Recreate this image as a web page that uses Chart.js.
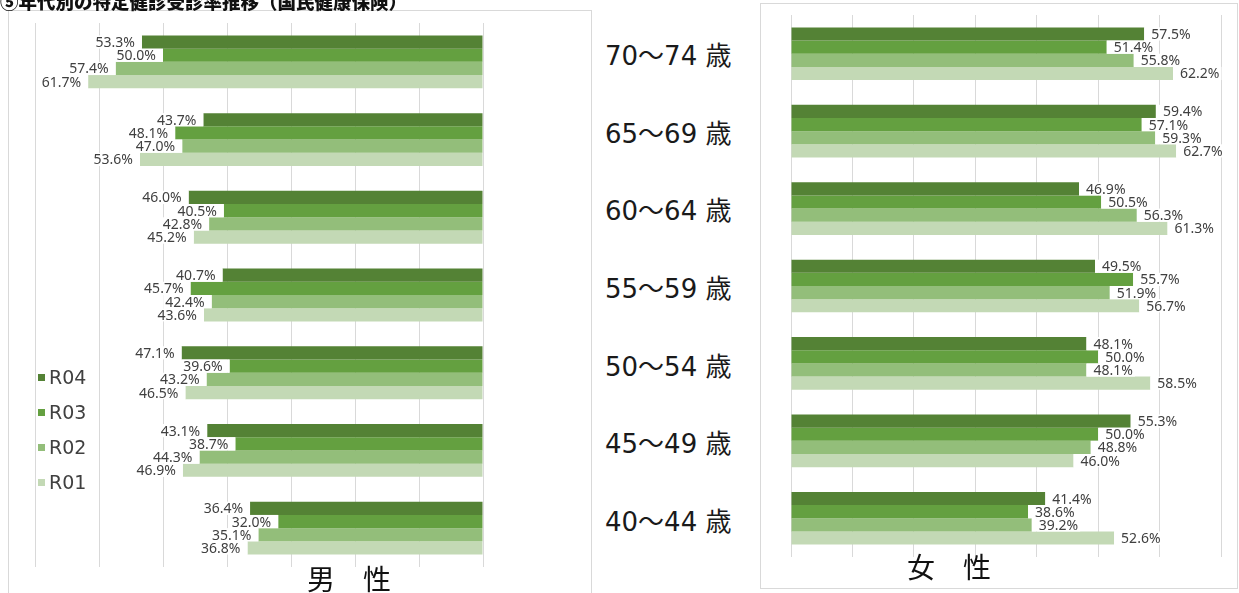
<!DOCTYPE html>
<html lang="ja">
<head>
<meta charset="utf-8">
<script src="https://cdn.jsdelivr.net/npm/chart.js@4.4.1/dist/chart.umd.min.js"></script>
<style>
  html, body { margin: 0; padding: 0; background: #fff; }
  body { width: 1239px; height: 593px; position: relative; overflow: hidden; font-family: "DejaVu Sans", "Noto Sans CJK JP", sans-serif; }
  .panel { position: absolute; border: 1px solid #d9d9d9; box-sizing: border-box; }
  #title { position: absolute; left: 0; top: -8px; font: 900 18.5px/19px "Noto Sans CJK JP"; color: #111; white-space: nowrap; z-index: 2; }
  canvas { position: absolute; top: 0; }
  .age { position: absolute; left: 605px; font-size: 26px; line-height: 26px; color: #1a1a1a; white-space: nowrap; }
  .legend-item { position: absolute; left: 38px; font-size: 19px; line-height: 22px; color: #404040; white-space: nowrap; }
  .legend-item span { display: inline-block; width: 7px; height: 7px; margin-right: 4px; vertical-align: middle; position: relative; top: -1px; }
  .sex { position: absolute; font: 28px/28px "Noto Sans CJK JP"; color: #111; white-space: nowrap; }
</style>
</head>
<body>
<div id="title">⑤年代別の特定健診受診率推移（国民健康保険）</div>
<div class="panel" style="left:8px; top:10px; width:584px; height:600px;"></div>
<div class="panel" style="left:760px; top:3px; width:478px; height:586px;"></div>
<canvas id="male" width="600" height="593" style="left:0;"></canvas>
<canvas id="female" width="479" height="593" style="left:760px;"></canvas>
<div class="sex" style="left:307px; top:564px;">男　性</div>
<div class="sex" style="left:907px; top:552px;">女　性</div>
<div id="legend"></div>
<div id="ages"></div>
<script>
const ageGroups = ['70～74 歳', '65～69 歳', '60～64 歳', '55～59 歳', '50～54 歳', '45～49 歳', '40～44 歳'];
const seriesNames = ['R04', 'R03', 'R02', 'R01'];
const seriesColors = ['#548235', '#64a040', '#93be7a', '#c3d9b5'];

// 受診率 (%)
const maleR04 = [53.3, 43.7, 46.0, 40.7, 47.1, 43.1, 36.4];
const maleR03 = [50.0, 48.1, 40.5, 45.7, 39.6, 38.7, 32.0];
const maleR02 = [57.4, 47.0, 42.8, 42.4, 43.2, 44.3, 35.1];
const maleR01 = [61.7, 53.6, 45.2, 43.6, 46.5, 46.9, 36.8];

const femaleR04 = [57.5, 59.4, 46.9, 49.5, 48.1, 55.3, 41.4];
const femaleR03 = [51.4, 57.1, 50.5, 55.7, 50.0, 50.0, 38.6];
const femaleR02 = [55.8, 59.3, 56.3, 51.9, 48.1, 48.8, 39.2];
const femaleR01 = [62.2, 62.7, 61.3, 56.7, 58.5, 46.0, 52.6];

const axisMax = 70;
const axisStep = 10;

// value labels with a white box, placed just past the end of each bar
const barLabels = {
  id: 'barLabels',
  afterDatasetsDraw(chart) {
    const ctx = chart.ctx;
    const reversed = chart.options.scales.x.reverse;
    ctx.save();
    ctx.font = '14px "Noto Sans"';
    ctx.textBaseline = 'middle';
    chart.data.datasets.forEach((ds, di) => {
      chart.getDatasetMeta(di).data.forEach((bar, i) => {
        const text = ds.data[i].toFixed(1) + '%';
        const w = ctx.measureText(text).width;
        const h = bar.height;
        const boxW = w + 9;
        ctx.fillStyle = '#fff';
        ctx.fillRect(reversed ? bar.x - boxW : bar.x, bar.y - h / 2, boxW, h);
        ctx.fillStyle = '#404040';
        ctx.textAlign = reversed ? 'right' : 'left';
        ctx.fillText(text, reversed ? bar.x - 7 : bar.x + 7, bar.y + 1);
      });
    });
    ctx.restore();
  }
};

function makeChart(id, series, reverse, padding) {
  return new Chart(document.getElementById(id), {
    type: 'bar',
    data: {
      labels: ageGroups,
      datasets: seriesNames.map((name, k) => ({
        label: name,
        data: series[k],
        backgroundColor: seriesColors[k],
        borderWidth: 0,
        categoryPercentage: 0.68,
        barPercentage: 1
      }))
    },
    options: {
      indexAxis: 'y',
      responsive: false,
      animation: false,
      devicePixelRatio: 1,
      layout: { padding },
      plugins: { legend: { display: false }, tooltip: { enabled: false } },
      scales: {
        x: {
          min: 0, max: axisMax, reverse,
          ticks: { display: false, stepSize: axisStep },
          grid: { color: '#d9d9d9', drawTicks: false },
          border: { display: false }
        },
        y: { display: false }
      }
    },
    plugins: [barLabels]
  });
}

const maleChart = makeChart('male', [maleR04, maleR03, maleR02, maleR01], true,
  { left: 35, right: 117, top: 23, bottom: 26 });
makeChart('female', [femaleR04, femaleR03, femaleR02, femaleR01], false,
  { left: 31, right: 18, top: 15, bottom: 36 });

// age group names sit between the two panels, aligned to the category rows
const agesBox = document.getElementById('ages');
ageGroups.forEach((name, i) => {
  const d = document.createElement('div');
  d.className = 'age';
  d.textContent = name;
  d.style.top = (maleChart.scales.y.getPixelForValue(i) - 5 - 14) + 'px';
  agesBox.appendChild(d);
});

const legendBox = document.getElementById('legend');
seriesNames.forEach((name, k) => {
  const d = document.createElement('div');
  d.className = 'legend-item';
  d.style.top = (366 + k * 35) + 'px';
  d.innerHTML = '<span style="background:' + seriesColors[k] + '"></span>' + name;
  legendBox.appendChild(d);
});
</script>
</body>
</html>
